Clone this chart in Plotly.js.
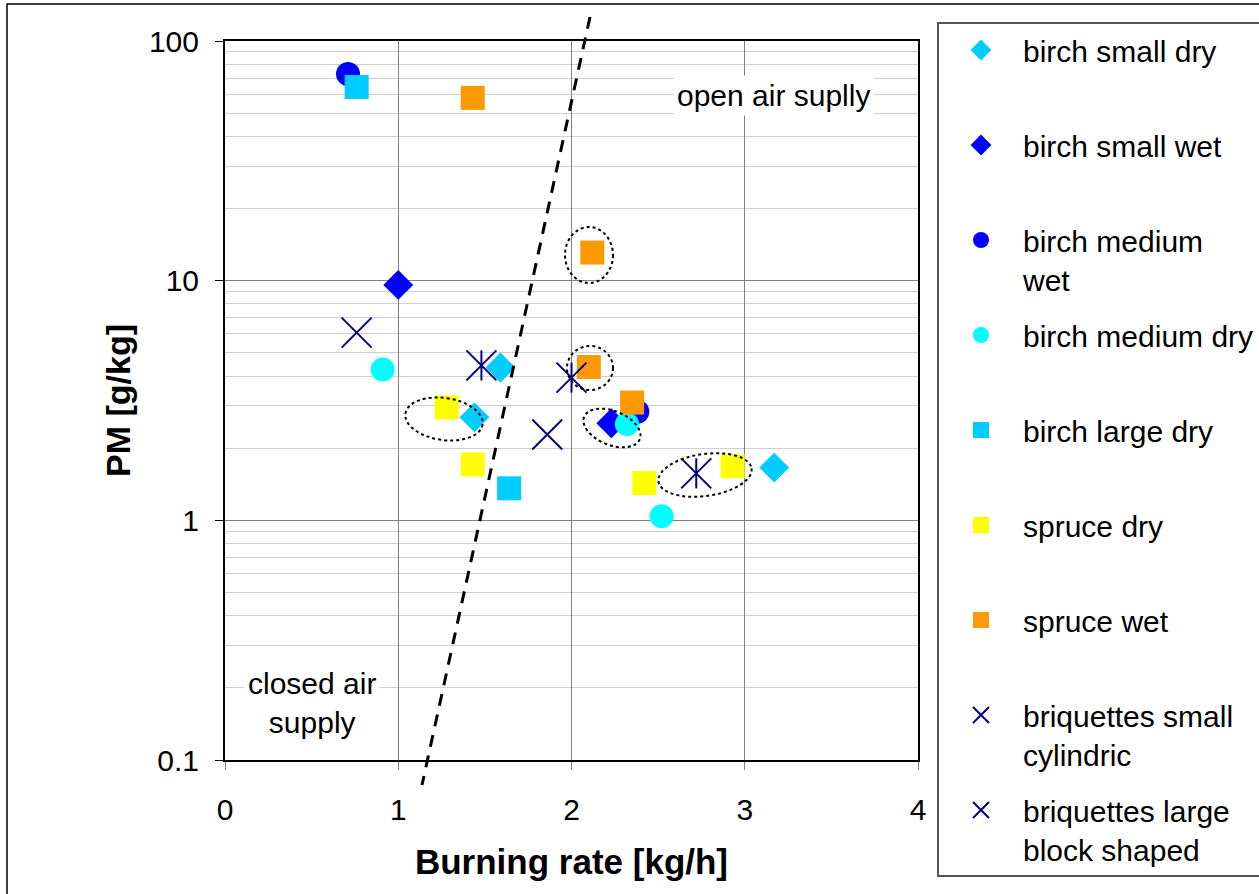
<!DOCTYPE html>
<html>
<head>
<meta charset="utf-8">
<script src="https://cdn.plot.ly/plotly-3.0.1.min.js"></script>
<style>
html,body{margin:0;padding:0;background:#fff;}
#chart{width:1259px;height:894px;}
</style>
</head>
<body>
<div id="chart"></div>
<script>
// ---- data (burning rate kg/h, PM g/kg) ----
const seriesNames = [
  "birch small dry", "birch small wet", "birch medium<br>wet", "birch medium dry",
  "birch large dry", "spruce dry", "spruce wet", "briquettes small<br>cylindric",
  "briquettes large<br>block shaped"
];
const birchSmallDryX = [1.44, 1.59, 3.17];
const birchSmallDryY = [2.69, 4.34, 1.66];
const birchSmallWetX = [1.00, 2.23];
const birchSmallWetY = [9.6, 2.54];
const birchMediumWetX = [0.71, 2.38];
const birchMediumWetY = [72.9, 2.84];
const birchMediumDryX = [0.91, 2.32, 2.52];
const birchMediumDryY = [4.26, 2.52, 1.04];
const birchLargeDryX = [0.76, 1.64];
const birchLargeDryY = [64.3, 1.36];
const spruceDryX = [1.28, 1.43, 2.42, 2.93];
const spruceDryY = [2.96, 1.71, 1.43, 1.68];
const spruceWetX = [1.43, 2.12, 2.10, 2.35];
const spruceWetY = [57.9, 13.1, 4.36, 3.1];
const briqSmallX = [1.48, 2.00, 2.72];
const briqSmallY = [4.43, 3.94, 1.57];
const briqLargeX = [0.76, 1.86];
const briqLargeY = [6.07, 2.28];
const xTicks = [0, 1, 2, 3, 4];
const yTicks = [0.1, 1, 10, 100];

const FONT = "Liberation Sans, Arial, sans-serif";
const navy = "#000080";

function tr(name, x, y, symbol, color, size, extra) {
  const t = {
    type: "scatter", mode: "markers", name: name, x: x, y: y,
    legendgroup: name,
    marker: {symbol: symbol, color: color, size: size, line: {width: 0}},
    hoverinfo: "x+y"
  };
  return Object.assign(t, extra || {});
}
function one(n){ return n.indexOf("<br>") >= 0 ? n : n + "<br>\u00a0"; }

const traces = [
  tr(one(seriesNames[0]), birchSmallDryX, birchSmallDryY, "diamond", "#00CCFF", 23),
  tr(one(seriesNames[1]), birchSmallWetX, birchSmallWetY, "diamond", "#0000FF", 23),
  tr(one(seriesNames[2]), birchMediumWetX, birchMediumWetY, "circle", "#0000FF", 24),
  tr(one(seriesNames[3]), birchMediumDryX, birchMediumDryY, "circle", "#00FFFF", 24),
  tr(one(seriesNames[4]), birchLargeDryX, birchLargeDryY, "square", "#00CCFF", 24),
  tr(one(seriesNames[5]), spruceDryX, spruceDryY, "square", "#FFFF00", 24),
  tr(one(seriesNames[6]), spruceWetX, spruceWetY, "square", "#FF9900", 24),
  {type:"scatter", mode:"markers", name: one(seriesNames[7]), legendgroup: "bsc",
   x: briqSmallX, y: briqSmallY,
   marker:{symbol:"x-thin-open", size:30, color:navy, line:{width:2, color:navy}}},
  {type:"scatter", mode:"markers", name: "bsc-v", legendgroup: "bsc", showlegend:false,
   x: briqSmallX, y: briqSmallY,
   marker:{symbol:"line-ns-open", size:21.5, color:navy, line:{width:2, color:navy}}},
  {type:"scatter", mode:"markers", name: one(seriesNames[8]), legendgroup: "blb",
   x: briqLargeX, y: briqLargeY,
   marker:{symbol:"x-thin-open", size:30, color:navy, line:{width:2, color:navy}}}
];

// plot-area geometry in pixels (for decorative shapes)
const L = 225, R = 918, T = 41, B = 760;
const W = R - L, H = B - T;
const px = v => (v - L) / W;
const py = v => (B - v) / H;

function ellipsePath(cx, cy, rx, ry, angDeg) {
  const a = angDeg * Math.PI / 180, k = 0.5523;
  const ca = Math.cos(a), sa = Math.sin(a);
  const P = (u, v) => {
    const X = cx + u * ca - v * sa, Y = cy + u * sa + v * ca;
    return px(X).toFixed(5) + "," + py(Y).toFixed(5);
  };
  return "M" + P(rx, 0) +
    " C" + P(rx, k*ry) + " " + P(k*rx, ry) + " " + P(0, ry) +
    " C" + P(-k*rx, ry) + " " + P(-rx, k*ry) + " " + P(-rx, 0) +
    " C" + P(-rx, -k*ry) + " " + P(-k*rx, -ry) + " " + P(0, -ry) +
    " C" + P(k*rx, -ry) + " " + P(rx, -k*ry) + " " + P(rx, 0) + " Z";
}
const dotLine = {color: "#000", width: 2, dash: "dot"};
const shapes = [
  {type:"rect", xref:"paper", yref:"paper", x0: px(7), y0: py(1000), x1: px(1400), y1: py(4),
   line:{color:"#000", width:1.5}, fillcolor:"rgba(0,0,0,0)", layer:"below"},
  {type:"line", xref:"paper", yref:"paper", x0: px(590), y0: py(17), x1: px(422), y1: py(785),
   line:{color:"#000", width:3, dash:"12px,9px"}},
  {type:"path", xref:"paper", yref:"paper", path: ellipsePath(589, 255, 24, 28, 0), line: dotLine},
  {type:"path", xref:"paper", yref:"paper", path: ellipsePath(590, 368, 23, 22, 0), line: dotLine},
  {type:"path", xref:"paper", yref:"paper", path: ellipsePath(444, 419, 39, 21, 8), line: dotLine},
  {type:"path", xref:"paper", yref:"paper", path: ellipsePath(612, 428, 30, 17, 22), line: dotLine},
  {type:"path", xref:"paper", yref:"paper", path: ellipsePath(705, 475, 47, 21, -8), line: dotLine}
];

const annotations = [
  {xref:"paper", yref:"paper", x: px(773), y: py(96), xanchor:"center", yanchor:"middle",
   text:"open air suplly", showarrow:false,
   font:{family:FONT, size:30, color:"#000"}, bgcolor:"#fff", borderpad:3},
  {xref:"paper", yref:"paper", x: px(312), y: py(703), xanchor:"center", yanchor:"middle",
   text:"closed air<br>supply", showarrow:false,
   font:{family:FONT, size:30, color:"#000"}, bgcolor:"#fff", borderpad:3}
];

const layout = {
  width: 1259, height: 894,
  margin: {l: L, r: 1259 - R, t: T, b: 894 - B, pad: 0, autoexpand: false},
  paper_bgcolor: "#fff", plot_bgcolor: "#fff",
  font: {family: FONT, size: 30, color: "#000"},
  showlegend: true,
  legend: {
    x: px(937), y: py(22), xanchor: "left", yanchor: "top",
    bgcolor: "#fff", bordercolor: "#555", borderwidth: 2,
    font: {family: FONT, size: 30, color: "#000"},
    valign: "top", tracegroupgap: 14, itemwidth: 74,
    traceorder: "grouped", maxheight: 2000
  },
  xaxis: {
    range: [0, 4], tickvals: xTicks, ticktext: xTicks.map(String),
    showgrid: true, gridcolor: "#808080", gridwidth: 1,
    zeroline: false, showline: true, mirror: true, linecolor: "#000", linewidth: 2,
    ticks: "outside", ticklen: 8, tickcolor: "#808080", tickwidth: 1,
    ticklabelstandoff: 14,
    tickfont: {family: FONT, size: 30},
    title: {text: "<b>Burning rate [kg/h]</b>", font: {family: FONT, size: 35}, standoff: 24}
  },
  yaxis: {
    type: "log", range: [-1, 2], tickvals: yTicks, ticktext: ["0.1", "1", "10", "100"],
    showgrid: true, gridcolor: "#808080", gridwidth: 1,
    minor: {showgrid: true, gridcolor: "#cfcfcf", gridwidth: 1, dtick: "D1", ticks: ""},
    zeroline: false, showline: true, mirror: true, linecolor: "#000", linewidth: 2,
    ticks: "outside", ticklen: 8, tickcolor: "#000", tickwidth: 1,
    ticklabelstandoff: 10,
    tickfont: {family: FONT, size: 30},
    title: {text: "<b>PM [g/kg]</b>", font: {family: FONT, size: 34}, standoff: 8}
  },
  shapes: shapes,
  annotations: annotations
};

Plotly.newPlot("chart", traces, layout, {displayModeBar: false, staticPlot: true});
</script>
</body>
</html>
